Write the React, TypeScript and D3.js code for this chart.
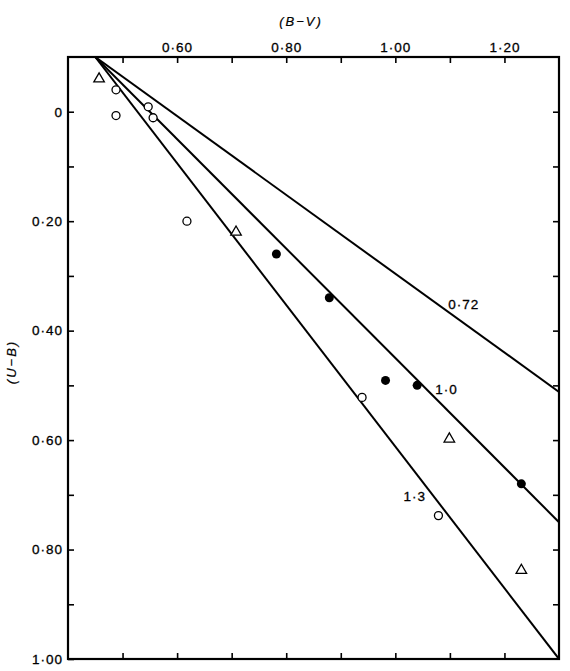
import { useEffect, useRef } from "react";
import * as d3 from "d3";

// colour indices
const triangles = [
  [0.457, -0.06],
  [0.708, 0.22],
  [1.099, 0.598],
  [1.231, 0.838],
];
const openCircles = [
  [0.488, -0.04],
  [0.488, 0.007],
  [0.547, -0.009],
  [0.556, 0.011],
  [0.618, 0.2],
  [0.939, 0.522],
  [1.079, 0.738],
];
const filledCircles = [
  [0.782, 0.26],
  [0.879, 0.34],
  [0.982, 0.491],
  [1.04, 0.5],
  [1.231, 0.68],
];

// reddening lines: common start, end at the right edge
const lineStart = [0.45, -0.1];
const lineEnds = [
  [1.3, 0.512],
  [1.3, 0.75],
  [1.3, 1.0],
];
const lineLabels = ["0·72", "1·0", "1·3"];
const labelPos = [
  [1.097, 0.36],
  [1.073, 0.515],
  [1.015, 0.711],
];

const xTicks = [0.5, 0.6, 0.7, 0.8, 0.9, 1.0, 1.1, 1.2];
const xLabelled = [0.6, 0.8, 1.0, 1.2];
const yTicks = [0, 0.1, 0.2, 0.3, 0.4, 0.5, 0.6, 0.7, 0.8, 0.9, 1.0];
const yLabelled = [0, 0.2, 0.4, 0.6, 0.8, 1.0];

const width = 570;
const height = 671;
const marginTop = 57;
const marginLeft = 68;
const marginRight = 11;
const marginBottom = 12;
const font = "'Liberation Sans', Arial, sans-serif";

function fmt(d) {
  if (d === 0) return "0";
  return d3.format(".2f")(d).replace(".", "·");
}

function isIn(list, d) {
  return list.some((v) => Math.abs(v - d) < 1e-6);
}

export default function App() {
  const ref = useRef(null);

  useEffect(() => {
    const svg = d3.select(ref.current);
    svg.selectAll("*").remove();

    const x = d3
      .scaleLinear()
      .domain([0.4, 1.3])
      .range([marginLeft, width - marginRight]);
    const y = d3
      .scaleLinear()
      .domain([-0.1, 1.0])
      .range([marginTop, height - marginBottom]);

    svg
      .append("clipPath")
      .attr("id", "plot-clip")
      .append("rect")
      .attr("x", x(0.4))
      .attr("y", y(-0.1))
      .attr("width", x(1.3) - x(0.4))
      .attr("height", y(1.0) - y(-0.1));

    const styleAxis = (g) => {
      g.select(".domain").remove();
      g.selectAll(".tick line").attr("stroke", "#000").attr("stroke-width", 1.6);
      g.selectAll(".tick text")
        .attr("font-family", font)
        .attr("font-size", 13.5)
        .attr("letter-spacing", 1)
        .attr("fill", "#000")
        .attr("stroke", "#000")
        .attr("stroke-width", 0.3);
    };

    svg
      .append("g")
      .attr("transform", `translate(0,${y(-0.1)})`)
      .call(
        d3
          .axisTop(x)
          .tickValues(xTicks)
          .tickSize(-6)
          .tickPadding(5)
          .tickFormat((d) => (isIn(xLabelled, d) ? fmt(d) : ""))
      )
      .call(styleAxis);

    svg
      .append("g")
      .attr("transform", `translate(0,${y(1.0)})`)
      .call(d3.axisBottom(x).tickValues(xTicks).tickSize(-6).tickFormat(() => ""))
      .call(styleAxis);

    svg
      .append("g")
      .attr("transform", `translate(${x(0.4)},0)`)
      .call(
        d3
          .axisLeft(y)
          .tickValues(yTicks)
          .tickSize(-6)
          .tickPadding(5)
          .tickFormat((d) => (isIn(yLabelled, d) ? fmt(d) : ""))
      )
      .call(styleAxis);

    svg
      .append("g")
      .attr("transform", `translate(${x(1.3)},0)`)
      .call(d3.axisRight(y).tickValues(yTicks.slice(0, -1)).tickSize(-6).tickFormat(() => ""))
      .call(styleAxis);

    // frame
    svg
      .append("rect")
      .attr("x", x(0.4))
      .attr("y", y(-0.1))
      .attr("width", x(1.3) - x(0.4))
      .attr("height", y(1.0) - y(-0.1))
      .attr("fill", "none")
      .attr("stroke", "#000")
      .attr("stroke-width", 2.2);

    // axis titles
    svg
      .append("text")
      .attr("x", 301)
      .attr("y", 26)
      .attr("text-anchor", "middle")
      .attr("font-family", font)
      .attr("font-style", "italic")
      .attr("font-size", 13)
      .attr("letter-spacing", 2)
      .attr("stroke", "#000")
      .attr("stroke-width", 0.2)
      .text("(B−V)");

    svg
      .append("text")
      .attr("transform", "translate(16,362) rotate(-90)")
      .attr("text-anchor", "middle")
      .attr("font-family", font)
      .attr("font-style", "italic")
      .attr("font-size", 13)
      .attr("letter-spacing", 2)
      .attr("stroke", "#000")
      .attr("stroke-width", 0.2)
      .text("(U−B)");

    // lines
    const line = d3
      .line()
      .x((d) => x(d[0]))
      .y((d) => y(d[1]));
    svg
      .append("g")
      .attr("clip-path", "url(#plot-clip)")
      .selectAll("path")
      .data(lineEnds)
      .join("path")
      .attr("d", (d) => line([lineStart, d]))
      .attr("fill", "none")
      .attr("stroke", "#000")
      .attr("stroke-width", 2);

    svg
      .append("g")
      .selectAll("text")
      .data(lineLabels)
      .join("text")
      .attr("x", (d, i) => x(labelPos[i][0]))
      .attr("y", (d, i) => y(labelPos[i][1]))
      .attr("font-family", font)
      .attr("font-size", 13.5)
      .attr("letter-spacing", 1)
      .attr("stroke", "#000")
      .attr("stroke-width", 0.3)
      .text((d) => d);

    // points
    svg
      .append("g")
      .selectAll("path")
      .data(triangles)
      .join("path")
      .attr("transform", (d) => `translate(${x(d[0])},${y(d[1])})`)
      .attr("d", d3.symbol(d3.symbolTriangle, 48))
      .attr("fill", "#fff")
      .attr("stroke", "#000")
      .attr("stroke-width", 1.3);

    svg
      .append("g")
      .selectAll("circle")
      .data(openCircles)
      .join("circle")
      .attr("cx", (d) => x(d[0]))
      .attr("cy", (d) => y(d[1]))
      .attr("r", 4)
      .attr("fill", "#fff")
      .attr("stroke", "#000")
      .attr("stroke-width", 1.3);

    svg
      .append("g")
      .selectAll("circle")
      .data(filledCircles)
      .join("circle")
      .attr("cx", (d) => x(d[0]))
      .attr("cy", (d) => y(d[1]))
      .attr("r", 4.5)
      .attr("fill", "#000");
  }, []);

  return (
    <svg
      ref={ref}
      width={width}
      height={height}
      viewBox={`0 0 ${width} ${height}`}
      style={{ position: "absolute", left: 0, top: 0, background: "#fff" }}
    />
  );
}
